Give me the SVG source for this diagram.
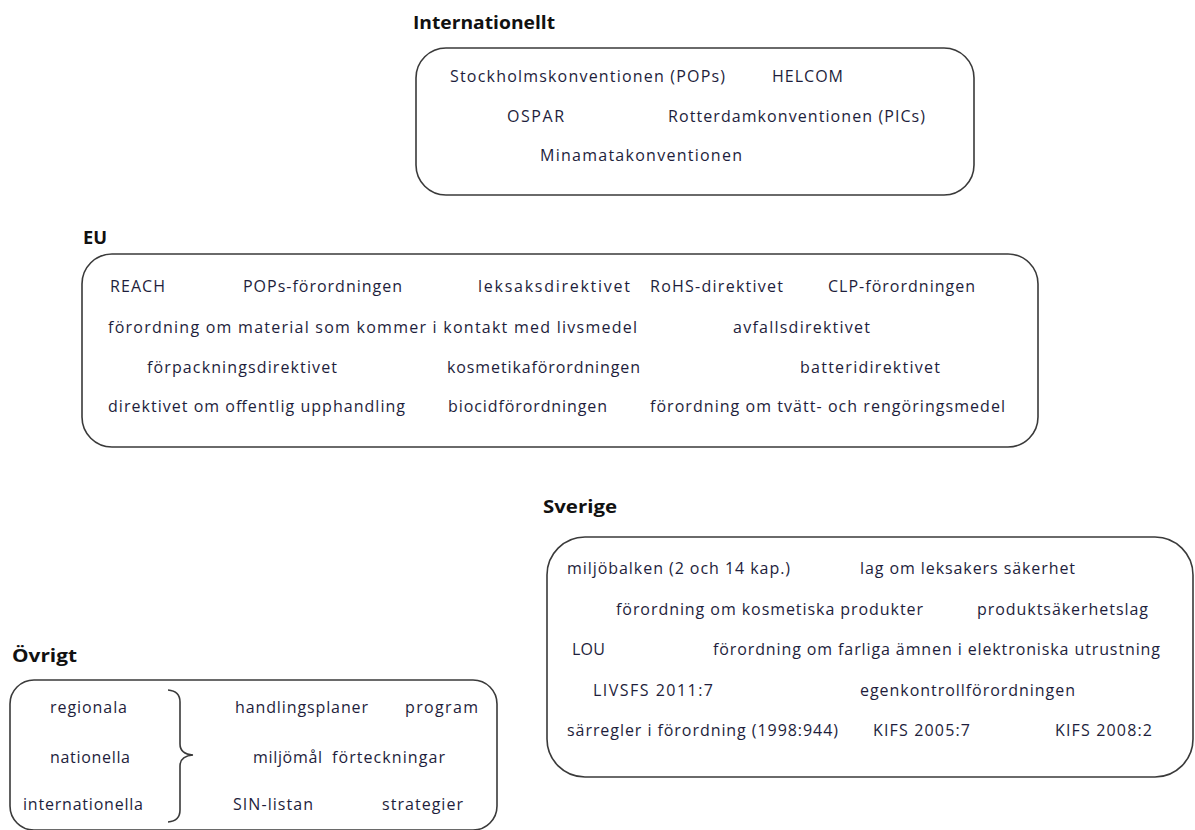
<svg xmlns="http://www.w3.org/2000/svg" width="1195" height="830" viewBox="0 0 1195 830">
<style>
.box{fill:#fff;stroke:#3a3a3a;stroke-width:1.6}
.t{font-family:"Open Sans","Liberation Sans",sans-serif;font-size:16px;fill:#1e1e3c}
.h{font-family:"Open Sans","Liberation Sans",sans-serif;font-size:18px;font-weight:bold;fill:#111}
.br{fill:none;stroke:#3a3a3a;stroke-width:1.6}
</style>
<rect width="1195" height="830" fill="#fff"/>
<g id="internationellt">
<text class="h" x="413" y="29" textLength="142" lengthAdjust="spacingAndGlyphs">Internationellt</text>
<rect class="box" x="416" y="48" width="558" height="147" rx="30" ry="30"/>
<text class="t" x="450" y="82" textLength="275" lengthAdjust="spacing">Stockholmskonventionen (POPs)</text>
<text class="t" x="772" y="82" textLength="71" lengthAdjust="spacing">HELCOM</text>
<text class="t" x="507" y="122" textLength="57" lengthAdjust="spacing">OSPAR</text>
<text class="t" x="668" y="122" textLength="257" lengthAdjust="spacing">Rotterdamkonventionen (PICs)</text>
<text class="t" x="540" y="161" textLength="202" lengthAdjust="spacing">Minamatakonventionen</text>
</g>
<g id="eu">
<text class="h" x="83" y="244" textLength="24" lengthAdjust="spacingAndGlyphs">EU</text>
<rect class="box" x="82" y="254" width="956" height="193" rx="30" ry="30"/>
<text class="t" x="110" y="292" textLength="55" lengthAdjust="spacing">REACH</text>
<text class="t" x="243" y="292" textLength="159" lengthAdjust="spacing">POPs-förordningen</text>
<text class="t" x="478" y="292" textLength="152" lengthAdjust="spacing">leksaksdirektivet</text>
<text class="t" x="650" y="292" textLength="133" lengthAdjust="spacing">RoHS-direktivet</text>
<text class="t" x="828" y="292" textLength="147" lengthAdjust="spacing">CLP-förordningen</text>
<text class="t" x="108" y="333" textLength="529" lengthAdjust="spacing">förordning om material som kommer i kontakt med livsmedel</text>
<text class="t" x="733" y="333" textLength="137" lengthAdjust="spacing">avfallsdirektivet</text>
<text class="t" x="147" y="373" textLength="190" lengthAdjust="spacing">förpackningsdirektivet</text>
<text class="t" x="447" y="373" textLength="193" lengthAdjust="spacing">kosmetikaförordningen</text>
<text class="t" x="800" y="373" textLength="140" lengthAdjust="spacing">batteridirektivet</text>
<text class="t" x="108" y="412" textLength="297" lengthAdjust="spacing">direktivet om offentlig upphandling</text>
<text class="t" x="448" y="412" textLength="159" lengthAdjust="spacing">biocidförordningen</text>
<text class="t" x="650" y="412" textLength="355" lengthAdjust="spacing">förordning om tvätt- och rengöringsmedel</text>
</g>
<g id="sverige">
<text class="h" x="543" y="513" textLength="74" lengthAdjust="spacingAndGlyphs">Sverige</text>
<rect class="box" x="547" y="537" width="646" height="240" rx="38" ry="38"/>
<text class="t" x="567" y="574" textLength="223" lengthAdjust="spacing">miljöbalken (2 och 14 kap.)</text>
<text class="t" x="860" y="574" textLength="215" lengthAdjust="spacing">lag om leksakers säkerhet</text>
<text class="t" x="616" y="615" textLength="307" lengthAdjust="spacing">förordning om kosmetiska produkter</text>
<text class="t" x="977" y="615" textLength="171" lengthAdjust="spacing">produktsäkerhetslag</text>
<text class="t" x="572" y="655" textLength="33" lengthAdjust="spacing">LOU</text>
<text class="t" x="713" y="655" textLength="447" lengthAdjust="spacing">förordning om farliga ämnen i elektroniska utrustning</text>
<text class="t" x="593" y="696" textLength="120" lengthAdjust="spacing">LIVSFS 2011:7</text>
<text class="t" x="860" y="696" textLength="215" lengthAdjust="spacing">egenkontrollförordningen</text>
<text class="t" x="567" y="736" textLength="271" lengthAdjust="spacing">särregler i förordning (1998:944)</text>
<text class="t" x="873" y="736" textLength="97" lengthAdjust="spacing">KIFS 2005:7</text>
<text class="t" x="1055" y="736" textLength="97" lengthAdjust="spacing">KIFS 2008:2</text>
</g>
<g id="ovrigt">
<text class="h" x="12" y="662" textLength="65" lengthAdjust="spacingAndGlyphs">Övrigt</text>
<rect class="box" x="10" y="680" width="487" height="150" rx="24" ry="24"/>
<text class="t" x="50" y="713" textLength="77" lengthAdjust="spacing">regionala</text>
<text class="t" x="50" y="763" textLength="80" lengthAdjust="spacing">nationella</text>
<text class="t" x="23" y="810" textLength="120" lengthAdjust="spacing">internationella</text>
<path class="br" d="M168,690 Q180,691 180,702 L180,744 Q180,754 193,755 Q180,756 180,766 L180,810 Q180,821 168,822"/>
<text class="t" x="235" y="713" textLength="133" lengthAdjust="spacing">handlingsplaner</text>
<text class="t" x="405" y="713" textLength="73" lengthAdjust="spacing">program</text>
<text class="t" x="253" y="763" textLength="69" lengthAdjust="spacing">miljömål</text>
<text class="t" x="332" y="763" textLength="113" lengthAdjust="spacing">förteckningar</text>
<text class="t" x="233" y="810" textLength="80" lengthAdjust="spacing">SIN-listan</text>
<text class="t" x="382" y="810" textLength="81" lengthAdjust="spacing">strategier</text>
</g>
<g id="connectors"/>
</svg>
